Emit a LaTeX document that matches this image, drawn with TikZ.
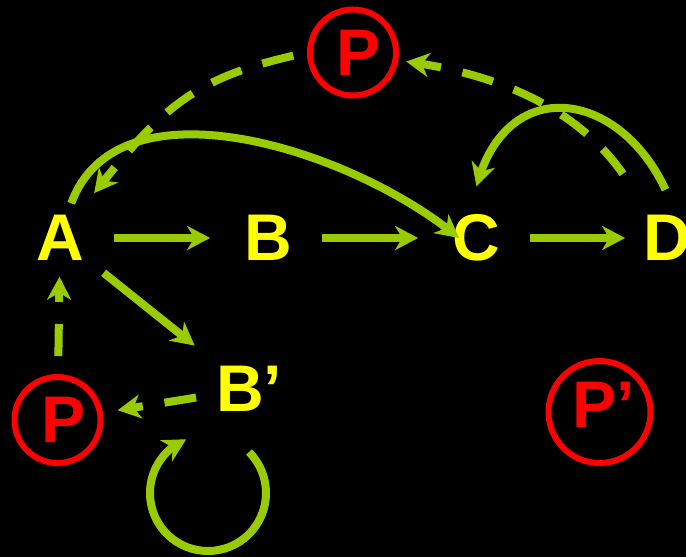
\documentclass[tikz,border=0pt]{standalone}
\usepackage{fontspec}
\setmainfont{Liberation Sans}
\usetikzlibrary{arrows.meta,bending}
\tikzset{every node/.style={font=\fontsize{66}{70}\selectfont\bfseries}}
\definecolor{linkcol}{HTML}{99CC00}
\definecolor{statecol}{HTML}{FFFF00}
\definecolor{pcol}{HTML}{FF0000}
\tikzset{
  letter/.style={text=statecol, inner sep=0pt, outer sep=12pt},
  pnode/.style={circle, draw=pcol, line width=6pt, text=pcol, inner sep=0pt, minimum size=86pt},
  flow/.style={->, line width=8pt, linkcol, shorten <=18pt, shorten >=22pt},
  relay/.style={->, line width=8pt, linkcol, dash pattern=on 32pt off 22pt, shorten <=12pt, shorten >=12pt},
  bow/.style={->, line width=8pt, linkcol}
}

\begin{document}
\begin{tikzpicture}[x=1pt, y=1pt, >={Stealth[length=23pt, width=24pt, inset=7pt]}]

  % Black page.
  \path[use as bounding box, fill=black] (0,0) rectangle (686,-557);

  % States.
  \node[letter] (A) at (60,-238) {A};
  \node[letter] (B) at (268,-238) {B};
  \node[letter] (C) at (476,-238) {C};
  \node[letter] (D) at (667,-238) {D};
  \node[letter] (Bp) at (249,-389) {B’};

  % Circled P's.
  \node[pnode] (Ptop) at (353,-52.5) {\kern12pt P};
  \node[pnode] (Pleft) at (57.5,-420) {\kern12pt P};
  \node[pnode, minimum size=102pt, text depth=15pt] (Pprime) at (599.5,-412) {\kern9pt P’};

  % Main chain.
  \draw[flow] (A) -- (B);
  \draw[flow] (B) -- (C);
  \draw[flow, shorten >=6pt] (C) -- (D);
  \draw[flow, shorten <=10pt, shorten >=14pt] (A) -- (Bp);

  % Long arcs back and forth.
  \draw[bow] (A.72) to[out=70, in=140, looseness=0.9] ([xshift=-17pt]C.center);
  \draw[bow, shorten <=15pt, shorten >=17pt] (D.82) to[out=115, in=80, looseness=1.7] (C.95);

  % Self loop under B'.
  \draw[bow] ([yshift=-63pt]Bp.center) arc[start angle=45, end angle=-248, radius=58];

  % Dashed links through P.
  \draw[relay, shorten <=36pt, shorten >=8pt] (D.124) to[out=125, in=-7] (Ptop.350);
  \draw[relay, shorten <=14pt, shorten >=13pt] (Ptop.180) to[out=193, in=52, looseness=1.15] (A.53);
  \draw[relay, shorten <=8pt, shorten >=15pt] (Bp) -- (Pleft);
  \draw[relay, shorten <=18pt, shorten >=4pt] (Pleft) -- (A);

\end{tikzpicture}
\end{document}
